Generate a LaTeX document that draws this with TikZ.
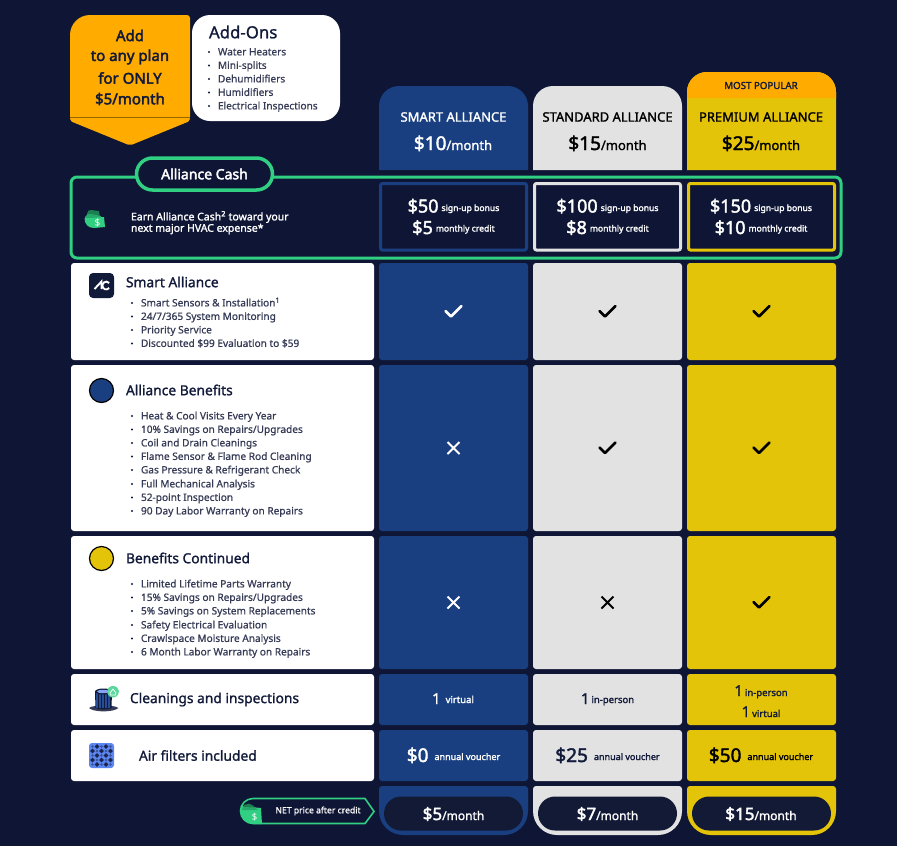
\documentclass[tikz,border=0pt]{standalone}
\usepackage{fontspec}
\setmainfont{Noto Sans}
\newcommand\medf{\special{pdf:code 2 Tr 0.38 w}}
\newcommand\semf{\special{pdf:code 2 Tr 0.18 w}}
\newcommand\lightf{\special{pdf:code 2 Tr 0.08 w}}
\usetikzlibrary{shapes.misc}
\definecolor{bg}{HTML}{0F1635}
\definecolor{navy}{HTML}{193F80}
\definecolor{lgray}{HTML}{E2E2E2}
\definecolor{gold}{HTML}{E4C408}
\definecolor{amber}{HTML}{FFAB00}
\definecolor{mint}{HTML}{30CF82}
\definecolor{midg}{HTML}{27A86B}
\definecolor{darkg}{HTML}{1C7F50}
\definecolor{ink}{HTML}{121A3A}
\definecolor{pillc}{HTML}{121A35}
\definecolor{filt}{HTML}{5B85F0}
\newcounter{tn}
\newcommand\fs[1]{\fontsize{#1}{#1}\selectfont}
\newcommand\tx[3][]{\stepcounter{tn}\node[txt,#1] (t\thetn) at (#2) {#3};}
\newcommand\bx[6][]{%
 \pgfmathsetmacro\bw{#4-#2}\pgfmathsetmacro\bh{#5-#3}%
 \pgfmathsetmacro\bcx{(#4+#2)/2}\pgfmathsetmacro\bcy{(#5+#3)/2}%
 \node[cell,minimum width=\bw pt,minimum height=\bh pt,#1] (#6) at (\bcx,\bcy) {};}
\newcommand\chk[3]{\draw[mk,draw=#3] (#1-8,#2-.5) -- (#1-2.5,#2+5) -- (#1+8,#2-5.5);}
\newcommand\crs[3]{\draw[mk,line cap=butt,line width=1.9pt,draw=#3] (#1-6,#2-6) -- (#1+6,#2+6) (#1-6,#2+6) -- (#1+6,#2-6);}
\newcommand\blist[3]{%
 \fill[ink] (#1,#2) circle (1.1pt);\tx[anchor=base west,text=ink!85!white]{#1+9,#2+3.4}{\lightf\fs{10.1}#3}}
\tikzset{
 cell/.style={rectangle,rounded corners=3pt,inner sep=0pt,outer sep=0pt,draw=none},
 txt/.style={inner sep=0pt,outer sep=0pt},
 mk/.style={line width=2.6pt,line cap=round,line join=round}
}
\begin{document}
\begin{tikzpicture}[x=1pt,y=-1pt]
\useasboundingbox (0,0) rectangle (897,846);
\fill[bg] (0,0) rectangle (897,846);
% add banner
\fill[amber] (70,117) -- (70,35) arc[start angle=180,end angle=270,radius=20] -- (187,15) arc[start angle=-90,end angle=0,radius=3] -- (190,117) -- cycle;
\fill[amber,rounded corners=2pt] (70,117) -- (190,117) -- (190,121) -- (130,145.5) -- (70,121) -- cycle;
\draw[black!40!amber,line width=.6pt] (70,117.5) -- (190,117.5);
\tx{130,35.5}{\color{ink}\medf\fs{15}Add}
\tx{130,57}{\color{ink}\medf\fs{15}to any plan}
\tx{130,78}{\color{ink}\medf\fs{15}for ONLY}
\tx{130,99}{\color{ink}\medf\fs{15}\$5/month}
\bx[fill=white,rounded corners=18pt]{192}{15}{340}{121}{addons}
\tx[anchor=west]{209,32}{\color{ink}\semf\fs{16.8}Add-Ons}
\blist{209}{52}{Water Heaters}
\blist{209}{65.5}{Mini-splits}
\blist{209}{79}{Dehumidifiers}
\blist{209}{92.5}{Humidifiers}
\blist{209}{106}{Electrical Inspections}
% headers
\fill[navy] (379,170) -- (379,106) arc[start angle=180,end angle=270,radius=20] -- (508,86) arc[start angle=-90,end angle=0,radius=20] -- (528,170) -- cycle;
\fill[lgray] (533,170) -- (533,106) arc[start angle=180,end angle=270,radius=20] -- (662,86) arc[start angle=-90,end angle=0,radius=20] -- (682,170) -- cycle;
\fill[gold] (687,170) -- (687,92) arc[start angle=180,end angle=270,radius=20] -- (816,72) arc[start angle=-90,end angle=0,radius=20] -- (836,170) -- cycle;
\fill[amber] (687,98) -- (687,92) arc[start angle=180,end angle=270,radius=20] -- (816,72) arc[start angle=-90,end angle=0,radius=20] -- (836,98) -- cycle;
\tx{761,85.5}{\color{ink}\semf\fs{9.7}MOST POPULAR}
\tx{453.5,117}{\color{white}\semf\fs{13}SMART ALLIANCE}
\tx{607.5,117}{\color{black}\semf\fs{13}STANDARD ALLIANCE}
\tx{761,117}{\color{black}\semf\fs{13}PREMIUM ALLIANCE}
\tx[anchor=base]{453,150}{\color{white}\medf\fs{19}\$10\semf\fs{13}/month}
\tx[anchor=base]{607.5,150}{\color{black}\medf\fs{19}\$15\semf\fs{13}/month}
\tx[anchor=base]{761,150}{\color{black}\medf\fs{19}\$25\semf\fs{13}/month}
% alliance cash
\draw[mint,line width=3pt,rounded corners=6pt,fill=bg] (71,177) rectangle (841,258);
\node[draw=mint,line width=3.5pt,fill=bg,rounded rectangle,minimum width=136pt,minimum height=32pt,inner sep=0pt] (cashpill) at (204.5,174) {\color{white}\medf\fs{14}Alliance Cash};
% wallet icon
\fill[darkg] (87,214) .. controls (87,211) and (89,210) .. (91,210) -- (99,211) -- (100,218) -- (87,218) -- cycle;
\fill[midg] (85,217) .. controls (86,214.5) and (88,213.5) .. (91,214) -- (101,216) -- (101,222) -- (85,222) -- cycle;
\fill[mint] (84.5,218) -- (91,218) -- (104,217) -- (105,227) -- (94,228) .. controls (88,228) and (84.5,224) .. (84.5,218) -- cycle;
\tx{97.5,222.5}{\bfseries\fs{10}\color{white}\$}
\tx[anchor=west]{131,217}{\color{white}\semf\fs{10.5}Earn Alliance Cash\textsuperscript{2} toward your}
\tx[anchor=west]{131,229}{\color{white}\semf\fs{10.5}next major HVAC expense*}
\foreach \xa/\xb/\c/\n in {380.5/526.5/navy/a,534.5/680.5/lgray/b,688.5/834.5/gold/c}{
 \draw[\c,line width=3pt,rounded corners=2pt,fill=bg] (\xa,183.5) rectangle (\xb,250);
}
\newcommand\cash[5]{%
 \tx[anchor=base]{#1,212.5}{\color{white}\medf\fs{18}#2\hspace{3pt}\raisebox{1.5pt}{\semf\fs{8.6}#3}}
 \tx[anchor=base]{#1,234}{\color{white}\medf\fs{18}#4\hspace{3pt}\raisebox{2.5pt}{\semf\fs{8.6}#5}}}
\cash{453.5}{\$50}{sign-up bonus}{\$5}{monthly credit}
\cash{607.5}{\$100}{sign-up bonus}{\$8}{monthly credit}
\cash{761}{\$150}{sign-up bonus}{\$10}{monthly credit}
% rows left
\bx[fill=white]{71}{263}{374}{360}{lrow1}
\bx[fill=white]{71}{365}{374}{531}{lrow2}
\bx[fill=white]{71}{536}{374}{669}{lrow3}
\bx[fill=white]{71}{674}{374}{725}{lrow4}
\bx[fill=white]{71}{730}{374}{781}{lrow5}
% columns rows
\foreach \ya/\yb/\r in {263/360/1,365/531/2,536/669/3,674/725/4,730/781/5}{
 \bx[fill=navy]{379}{\ya}{528}{\yb}{ca\r}
 \bx[fill=lgray]{533}{\ya}{682}{\yb}{cb\r}
 \bx[fill=gold]{687}{\ya}{836}{\yb}{cc\r}
}
% row 1
\bx[fill=ink,rounded corners=4pt]{89}{273}{114}{298}{acicon}
\draw[white,line width=1.9pt,line join=miter] (94.5,289) -- (101.5,281.5) -- (101.5,289);
\draw[white,line width=1.9pt] (109.2,283) arc[start angle=-40,end angle=-320,radius=3.9];
\tx[anchor=west]{126,282}{\color{ink}\semf\fs{13.8}Smart Alliance}
\blist{132}{303}{Smart Sensors \& Installation\textsuperscript{1}}
\blist{132}{316.5}{24/7/365 System Monitoring}
\blist{132}{330}{Priority Service}
\blist{132}{343.5}{Discounted \$99 Evaluation to \$59}
% row 2
\node[circle,fill=navy,draw=black,line width=1.2pt,minimum size=24pt,inner sep=0pt] (c1) at (101.5,390.5) {};
\tx[anchor=west]{126,390}{\color{ink}\semf\fs{13.8}Alliance Benefits}
\blist{132}{416}{Heat \& Cool Visits Every Year}
\blist{132}{429.5}{10\% Savings on Repairs/Upgrades}
\blist{132}{443}{Coil and Drain Cleanings}
\blist{132}{456.5}{Flame Sensor \& Flame Rod Cleaning}
\blist{132}{470}{Gas Pressure \& Refrigerant Check}
\blist{132}{484}{Full Mechanical Analysis}
\blist{132}{497.5}{52-point Inspection}
\blist{132}{511}{90 Day Labor Warranty on Repairs}
% row 3
\node[circle,fill=gold,draw=black,line width=1.2pt,minimum size=24pt,inner sep=0pt] (c2) at (101.5,558.5) {};
\tx[anchor=west]{126,558}{\color{ink}\semf\fs{13.8}Benefits Continued}
\blist{132}{584}{Limited Lifetime Parts Warranty}
\blist{132}{597.5}{15\% Savings on Repairs/Upgrades}
\blist{132}{611}{5\% Savings on System Replacements}
\blist{132}{625}{Safety Electrical Evaluation}
\blist{132}{638.5}{Crawlspace Moisture Analysis}
\blist{132}{652}{6 Month Labor Warranty on Repairs}
% row 4 icon
\fill[ink!85!white] (89,708) .. controls (93,704.5) and (114,704.5) .. (118.5,708) .. controls (113,712.5) and (94,712.5) .. (89,708) -- cycle;
\fill[ink] (95,692) -- (112,692) -- (111.5,708) .. controls (108,710) and (99,710) .. (95.5,708) -- cycle;
\foreach \q in {97,100,103,106,109}{\draw[navy!80!filt,line width=1.6pt] (\q,693) -- (\q,708);}
\fill[ink] (103.5,691.5) ellipse (8.5 and 3);
\fill[filt!75!white] (103,691.5) ellipse (6 and 1.7);
\fill[mint!80!white] (113,691.7) circle (5.8);
\draw[white,line width=.7pt,line join=round] (110,693) -- (113,689) -- (116,693) -- (115.5,695) -- (110.5,695) -- cycle;
\tx[anchor=west]{130,699.5}{\color{ink}\semf\fs{13.8}Cleanings and inspections}
% row 5 icon
\bx[fill=filt,rounded corners=3pt]{89}{743}{114}{768}{filterbox}
\foreach \i in {0,...,4}{\foreach \j in {0,...,4}{
 \pgfmathparse{int(mod(\i+\j,2))}
 \ifnum\pgfmathresult=1\relax
 \fill[ink!90!filt] (92.5+4.5*\i,746.5+4.5*\j) ++(0,-2.4) -- ++(2.4,2.4) -- ++(-2.4,2.4) -- ++(-2.4,-2.4) -- cycle;
 \else
 \fill[filt!55!ink] (92.5+4.5*\i,746.5+4.5*\j) circle (1.3);
 \fi}}
\tx[anchor=west]{139,755.5}{\color{ink}\semf\fs{13.8}Air filters included}
% marks
\chk{453.5}{311.5}{white} \chk{607.5}{311.5}{black} \chk{761.5}{311.5}{black}
\crs{453.5}{448}{white} \chk{607.5}{448}{black} \chk{761.5}{448}{black}
\crs{453.5}{602.5}{white} \crs{607.5}{602.5}{black} \chk{761.5}{602.5}{black}
% row 4 text
\tx[anchor=base]{453,704}{\color{white}\semf\fs{15}1\hspace{5pt}\raisebox{1pt}{\semf\fs{9.5}virtual}}
\tx[anchor=base]{607.5,704}{\color{ink}\semf\fs{15}1\hspace{2pt}\raisebox{1pt}{\semf\fs{9.5}in-person}}
\tx[anchor=base]{761,696}{\color{ink}\semf\fs{15}1\hspace{2pt}\fs{9.5}in-person}
\tx[anchor=base]{761,717}{\color{ink}\semf\fs{15}1\hspace{2pt}\fs{9.5}virtual}
% row 5 text
\tx[anchor=base]{453.5,762}{\color{white}\medf\fs{19}\$0\hspace{6pt}\raisebox{2pt}{\semf\fs{9}annual voucher}}
\tx[anchor=base]{607.5,762}{\color{ink}\medf\fs{19}\$25\hspace{6pt}\raisebox{2pt}{\semf\fs{9}annual voucher}}
\tx[anchor=base]{761,762}{\color{black}\medf\fs{19}\$50\hspace{6pt}\raisebox{2pt}{\semf\fs{9}annual voucher}}
% bottom
\foreach \xa/\xb/\c in {379/528/navy,533/682/lgray,687/836/gold}{
 \fill[\c] (\xa,789) arc[start angle=180,end angle=270,radius=3] -- ({\xb-3},786) arc[start angle=-90,end angle=0,radius=3] -- (\xb,811) arc[start angle=0,end angle=90,radius=24] -- ({\xa+24},835) arc[start angle=90,end angle=180,radius=24] -- cycle;
}
\node[rounded rectangle,fill=pillc,minimum width=139pt,minimum height=34pt,inner sep=0pt] (p1) at (453.5,813.5) {};
\node[rounded rectangle,fill=pillc,minimum width=139pt,minimum height=34pt,inner sep=0pt] (p2) at (607.5,813.5) {};
\node[rounded rectangle,fill=pillc,minimum width=139pt,minimum height=34pt,inner sep=0pt] (p3) at (761.5,813.5) {};
\tx[anchor=base]{453.5,820}{\color{white}\medf\fs{17}\$5\semf\fs{12}/month}
\tx[anchor=base]{607.5,820}{\color{white}\medf\fs{17}\$7\semf\fs{12}/month}
\tx[anchor=base]{761,820}{\color{white}\medf\fs{17}\$15\semf\fs{12}/month}
% net price
\draw[mint,line width=1.6pt,fill=bg] (253,798.5) -- (365,798.5) -- (374,811.5) -- (365,823.5) -- (253,823.5) arc[start angle=90,end angle=270,radius=12.5] -- cycle;
\fill[mint] (241,806) -- (261,808) -- (262,824) -- (253,824) .. controls (246,824) and (240.5,818) .. (240.5,811) -- cycle;
\fill[darkg] (244,805) -- (249,803.5) -- (254,806) -- (254,808) -- (243,808) -- cycle;
\fill[midg] (243,807) -- (255,807.5) -- (258,810) -- (242,810) -- cycle;
\tx{254.5,817}{\bfseries\fs{9.5}\color{white}\$}
\tx[anchor=west]{275.5,811}{\color{white}\lightf\fs{8.6}NET price after credit}
\end{tikzpicture}
\end{document}
